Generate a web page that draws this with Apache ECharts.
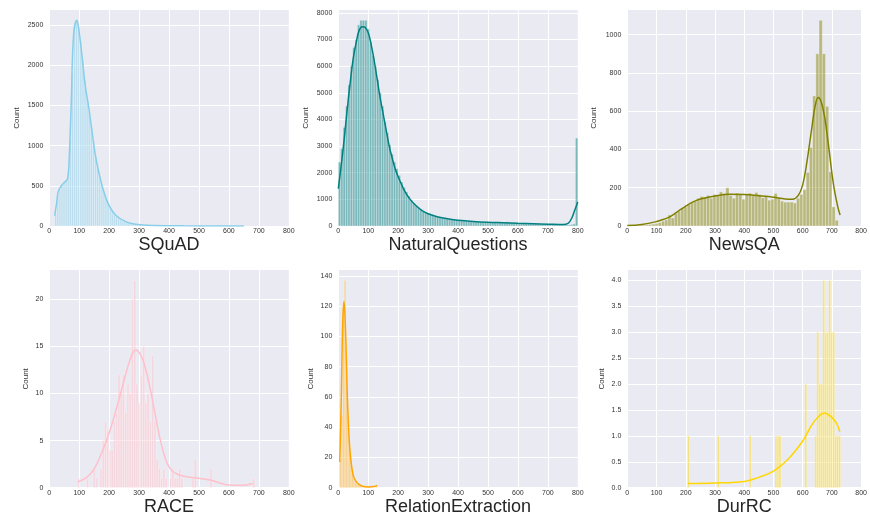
<!DOCTYPE html>
<html><head><meta charset="utf-8">
<script src="https://cdn.jsdelivr.net/npm/echarts@6/dist/echarts.min.js"></script>
<style>html,body{margin:0;padding:0;background:#fff}#c{width:870px;height:521px}</style>
</head><body><div id="c"></div>
<script>
// ---------- data ----------
const titles = ['SQuAD', 'NaturalQuestions', 'NewsQA', 'RACE', 'RelationExtraction', 'DurRC'];
const xTickStep = 100;
const yTickSteps = [500, 1000, 200, 5, 20, 0.5];

const squadBinStart = 18, squadBinWidth = 7;
const squadCounts = [150,400,460,520,560,580,650,1100,1900,2500,
  2560,2480,2300,2050,1800,1600,1430,1250,1050,880,
  740,620,520,430,350,290,240,190,150,120,
  95,75,60,50,40,32,25,20,16,13,
  10,8,7,6,5,4,4,3,3,2,
  2,2,2,1,1,1,1,1,1,1,
  1,1,0,1,1,0,1,0,1,0,
  1,0,0,1,0,0,1,0,0,0,
  1,0,0,0,0,1,0,0,0,1];
const squadKde = [[18,130],[25,300],[30,430],[42,510],[53,550],[61,590],[66,800],[73,1500],[81,2370],[92,2560],[98,2460],[109,2130],[120,1750],[132,1470],[143,1170],[154,880],[165,675],[182,430],[199,260],[221,137],[255,54],[288,21],[350,6],[450,2],[550,1],[650,0.5]];

const nqBinStart = 0, nqBinWidth = 8;
const nqCounts = [2400,2900,3700,4500,5300,6000,6700,7000,7550,7720,
  7720,7720,7400,6900,6400,6000,5500,5000,4500,3900,
  3500,3050,2700,2400,2150,1900,1650,1450,1280,1120,
  980,870,770,690,620,560,510,470,430,390,
  360,340,320,300,285,270,255,245,235,225,
  215,205,200,190,185,180,170,165,160,155,
  150,145,142,138,135,132,130,128,125,122,
  160,130,118,115,110,105,100,95,92,88,
  85,82,80,76,72,70,66,63,60,58,
  55,52,50,48,45,43,42,60,80,3300];
const nqKde = [[0,1400],[10,2300],[20,3300],[30,4400],[40,5400],[50,6300],[60,6900],[70,7350],[80,7480],[90,7450],[100,7250],[110,6800],[120,6200],[130,5500],[140,4800],[150,4200],[160,3600],[170,3000],[180,2550],[190,2150],[200,1850],[220,1350],[240,1000],[260,760],[280,580],[300,460],[330,350],[370,260],[400,215],[450,170],[500,140],[550,120],[600,100],[650,85],[700,70],[740,60],[760,70],[770,120],[780,300],[790,600],[800,900]];

const newsBinStart = 18, newsBinWidth = 11;
const newsCounts = [1,2,3,4,5,8,10,14,18,25,
  32,58,42,65,75,92,100,112,122,130,
  145,155,150,160,145,165,162,178,170,200,
  160,145,172,165,140,168,172,160,175,165,
  148,155,135,140,170,145,130,125,125,125,
  120,145,165,190,280,410,680,900,1075,900,
  625,283,100,30];
const newsKde = [[0,2],[50,8],[100,23],[125,35],[150,52],[175,78],[200,104],[225,126],[250,141],[300,157],[350,166],[400,165],[450,158],[500,150],[540,141],[565,140],[585,160],[600,215],[615,340],[630,500],[643,630],[653,671],[663,650],[675,570],[690,400],[705,220],[720,100],[728,57]];

const raceBinStart = 94, raceBinWidth = 7.5;
const raceCounts = [1,0,0,0,1,0,0,2,1,0,
  2,5,7,6,4,4,7,8,12,10,
  12,8,11,10,20,22,11,9,12,15,
  9,10,7,14,7,3,2,1,2,1,
  0,1,2,1,1,2,1,0,0,0,
  0,1,3,0,0,0,0,0,0,2,
  0,0,0,0,0,0,0,0,0,0,
  0,0,0,0,0,0,0,0,1];
const raceKde = [[95,0.6],[125,1.1],[150,2.0],[175,3.7],[200,5.8],[225,8.5],[250,11.4],[270,13.6],[288,14.6],[305,14.1],[320,12.8],[335,10.8],[350,8.4],[365,5.9],[380,3.9],[395,2.5],[410,1.8],[430,1.4],[460,1.15],[500,1.0],[540,0.8],[570,0.5],[600,0.28],[640,0.25],[680,0.45]];

const reBinStart = 5, reBinWidth = 5;
const reCounts = [18,48,122,137,85,45,30,18,10,6,
  4,3,2,1,1,0,1,0,0,0,
  0,0,0,0,1];
const reKde = [[5,17],[10,60],[15,110],[19,123],[24,105],[30,62],[35,37],[40,22],[50,8],[60,4],[70,2],[80,1],[100,0.5],[120,0.8],[130,1.5]];

const durBinStart = 206, durBinWidth = 6.8;
const durCounts = [1,0,0,0,0,0,0,0,0,0,
  0,0,0,0,0,1,0,0,0,0,
  0,0,0,0,0,0,0,0,0,0,
  0,1,0,0,0,0,0,0,0,0,
  0,0,0,0,1,1,1,0,0,0,
  0,0,0,0,0,0,0,0,0,2,
  0,0,0,0,1,3,2,2,4,3,
  3,4,3,3,1,1,1];
const durKde = [[207,0.08],[300,0.09],[400,0.12],[450,0.2],[500,0.32],[550,0.55],[600,0.9],[630,1.2],[655,1.38],[675,1.44],[695,1.38],[715,1.25],[727,1.08]];

// ---------- styling / layout ----------
const colors = ['#87CEEB', '#008080', '#808000', '#FFC0CB', '#FFA500', '#FFD700'];
const panels = [
  {start: squadBinStart, width: squadBinWidth, counts: squadCounts, kde: squadKde},
  {start: nqBinStart, width: nqBinWidth, counts: nqCounts, kde: nqKde},
  {start: newsBinStart, width: newsBinWidth, counts: newsCounts, kde: newsKde},
  {start: raceBinStart, width: raceBinWidth, counts: raceCounts, kde: raceKde},
  {start: reBinStart, width: reBinWidth, counts: reCounts, kde: reKde},
  {start: durBinStart, width: durBinWidth, counts: durCounts, kde: durKde}
];
const lefts = [49.3, 338.3, 627.3];
const tops = [10, 270];
const heights = [216, 217.7];
const nameGaps = [29, 29, 30, 20, 24, 22];
const FONT = '"Liberation Sans", Arial, sans-serif';

function rgba(hex, a) {
  const n = parseInt(hex.slice(1), 16);
  return `rgba(${(n >> 16) & 255},${(n >> 8) & 255},${n & 255},${a})`;
}

const grid = [], xAxis = [], yAxis = [], series = [];
panels.forEach((p, i) => {
  const col = i % 3, row = Math.floor(i / 3);
  grid.push({left: lefts[col], top: tops[row], width: 239.5, height: heights[row],
    show: true, backgroundColor: '#EAEAF2', borderWidth: 0});
  xAxis.push({gridIndex: i, type: 'value', min: 0, max: 800, interval: xTickStep,
    axisLine: {show: false}, axisTick: {show: false},
    axisLabel: {fontSize: 7, color: '#333', margin: 2, fontFamily: FONT},
    splitLine: {show: true, lineStyle: {color: '#fff', width: 1}},
    name: titles[i], nameLocation: 'middle', nameGap: 6,
    nameTextStyle: {fontSize: 18, color: '#262626', fontFamily: FONT}});
  const ymax = Math.max(...p.counts) * 1.05;
  yAxis.push({gridIndex: i, type: 'value', min: 0, max: ymax, interval: yTickSteps[i],
    axisLine: {show: false}, axisTick: {show: false},
    axisLabel: {fontSize: 7, color: '#333', margin: 6, fontFamily: FONT, showMaxLabel: false,
      formatter: i === 5 ? (v => v.toFixed(1)) : (v => String(v))},
    splitLine: {show: true, showMaxLine: false, lineStyle: {color: '#fff', width: 1}},
    name: 'Count', nameLocation: 'middle', nameGap: nameGaps[i],
    nameTextStyle: {fontSize: 8, color: '#333', fontFamily: FONT}});
  const barData = [];
  p.counts.forEach((c, k) => {
    if (c > 0) barData.push([p.start + k * p.width, p.start + (k + 1) * p.width, c]);
  });
  const color = colors[i];
  series.push({type: 'custom', xAxisIndex: i, yAxisIndex: i, data: barData,
    encode: {x: [0, 1], y: 2},
    renderItem: (params, api) => {
      const a = api.coord([api.value(0), api.value(2)]);
      const b = api.coord([api.value(1), 0]);
      return {type: 'rect', shape: {x: a[0], y: a[1], width: b[0] - a[0], height: b[1] - a[1]},
        style: {fill: rgba(color, 0.48), stroke: 'rgba(255,255,255,0.6)', lineWidth: 0.5}};
    }, silent: true, z: 2});
  series.push({type: 'line', xAxisIndex: i, yAxisIndex: i, data: p.kde,
    smooth: 0.4, showSymbol: false, silent: true, z: 3,
    lineStyle: {color: color, width: 1.5}});
});

const chart = echarts.init(document.getElementById('c'), null, {renderer: 'canvas'});
chart.setOption({animation: false, backgroundColor: '#fff', grid, xAxis, yAxis, series});
</script>
</body></html>
